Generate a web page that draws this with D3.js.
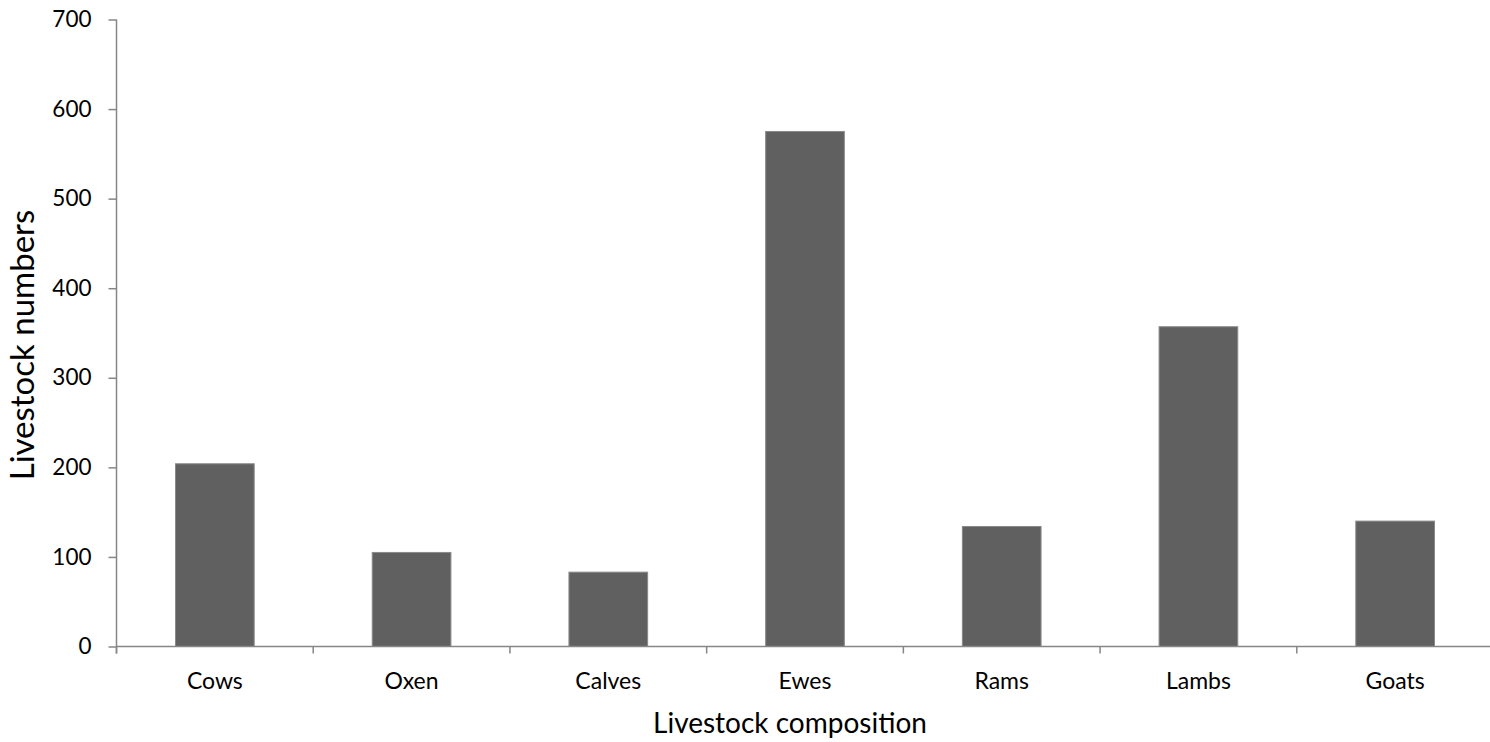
<!DOCTYPE html>
<html>
<head>
<meta charset="utf-8">
<script src="https://cdn.jsdelivr.net/npm/d3@7"></script>
<style>
  html, body { margin: 0; padding: 0; background: #fff; }
  svg { display: block; font-family: Lato, "Open Sans", sans-serif; }
</style>
</head>
<body>
<svg id="chart" width="1490" height="742"></svg>
<script>
// Livestock counts by category
const categories = ["Cows", "Oxen", "Calves", "Ewes", "Rams", "Lambs", "Goats"];
const values = [204, 105, 83, 575, 134, 357, 140];
const yTicks = [0, 100, 200, 300, 400, 500, 600, 700];
const xTitle = "Livestock composition";
const yTitle = "Livestock numbers";

const svg = d3.select("#chart");
const plot = { left: 116.5, right: 1493.5, top: 19.5, bottom: 646.5 };
const axisColor = "#868686";

const x = d3.scaleBand().domain(categories).range([plot.left, plot.right]).padding(0);
const y = d3.scaleLinear().domain([0, 700]).range([plot.bottom, plot.top]);

// Bars
const barW = x.bandwidth() * 0.4;
svg.append("g")
  .selectAll("rect")
  .data(categories)
  .join("rect")
  .attr("x", (d) => x(d) + (x.bandwidth() - barW) / 2)
  .attr("y", (d, i) => y(values[i]))
  .attr("width", barW)
  .attr("height", (d, i) => y(0) - y(values[i]))
  .attr("fill", "#606060")
  .attr("stroke", "#8a8a8a")
  .attr("stroke-width", 1);

// Y axis
const yAxis = svg.append("g")
  .attr("transform", `translate(${plot.left},0)`)
  .call(d3.axisLeft(y).tickValues(yTicks).tickSize(8).tickPadding(17).tickSizeOuter(0));
yAxis.select(".domain").attr("stroke", axisColor).attr("stroke-width", 1.5)
  .attr("d", `M0,${plot.top}V${plot.bottom + 7}`);
yAxis.selectAll(".tick line").attr("stroke", axisColor).attr("stroke-width", 1.5);
yAxis.selectAll(".tick text")
  .attr("fill", "#000")
  .style("font-size", "22.5px")
  .style("font-family", "Lato, sans-serif");

// X axis line with ticks at category boundaries
const xAxis = svg.append("g");
xAxis.append("line")
  .attr("x1", plot.left).attr("x2", plot.right)
  .attr("y1", y(0)).attr("y2", y(0))
  .attr("stroke", axisColor).attr("stroke-width", 1.5);
const bounds = categories.map((c) => x(c)).concat([x(categories[categories.length - 1]) + x.step()]);
xAxis.selectAll("line.tk")
  .data(bounds)
  .join("line")
  .attr("class", "tk")
  .attr("x1", (d) => d).attr("x2", (d) => d)
  .attr("y1", y(0)).attr("y2", y(0) + 7)
  .attr("stroke", axisColor).attr("stroke-width", 1.5);
xAxis.selectAll("text")
  .data(categories)
  .join("text")
  .attr("x", (d) => x(d) + x.bandwidth() / 2)
  .attr("y", 689)
  .attr("text-anchor", "middle")
  .style("font-size", "23px")
  .text((d) => d);

// Axis titles
svg.append("text")
  .attr("x", 790)
  .attr("y", 733)
  .attr("text-anchor", "middle")
  .style("font-size", "28px")
  .text(xTitle);

svg.append("text")
  .attr("transform", "translate(34,345) rotate(-90)")
  .attr("text-anchor", "middle")
  .style("font-size", "33px")
  .text(yTitle);
</script>
</body>
</html>
